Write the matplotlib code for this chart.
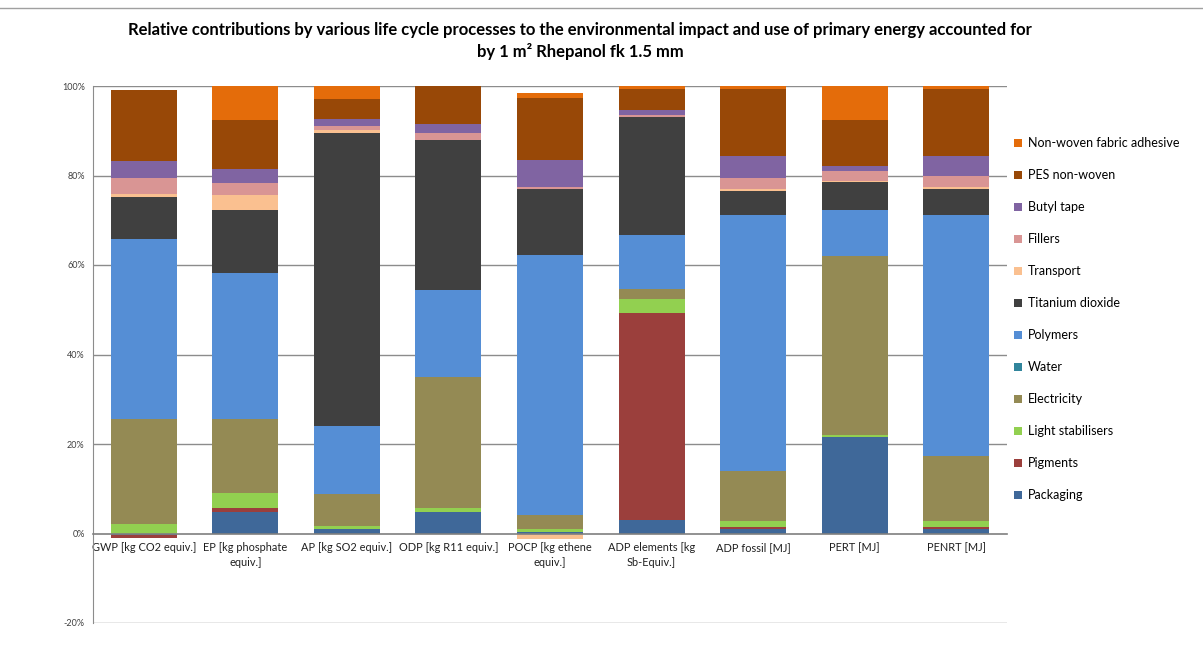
import matplotlib
matplotlib.use("Agg")
import matplotlib.pyplot as plt
import numpy as np
from matplotlib.lines import Line2D
from matplotlib.patches import Patch

categories = ["GWP [kg CO2 equiv.]", "EP [kg phosphate\nequiv.]", "AP [kg SO2 equiv.]",
              "ODP [kg R11 equiv.]", "POCP [kg ethene\nequiv.]", "ADP elements [kg\nSb-Equiv.]",
              "ADP fossil [MJ]", "PERT [MJ]", "PENRT [MJ]"]

packaging      = [-0.4, 4.8, 1.0, 4.7, 0.3, 3.0, 0.9, 21.5, 1.0]
pigments       = [-0.5, 0.9, 0.0, 0.0, 0.0, 46.3, 0.6, 0.0, 0.5]
light_stab     = [2.2, 3.4, 0.6, 0.9, 0.6, 3.2, 1.3, 0.4, 1.4]
electricity    = [23.4, 16.5, 7.2, 29.3, 3.3, 2.1, 11.2, 40.2, 14.5]
water          = [0.0, 0.0, 0.0, 0.0, 0.0, 0.0, 0.0, 0.0, 0.0]
polymers       = [40.1, 32.7, 15.2, 19.6, 58.1, 12.0, 57.2, 10.3, 53.8]
titanium       = [9.5, 14.1, 65.6, 33.4, 14.7, 26.5, 5.4, 6.1, 5.8]
transport      = [0.7, 3.2, 0.6, 0.0, -1.2, 0.0, 0.4, 0.3, 0.5]
fillers        = [3.5, 2.7, 0.9, 1.7, 0.5, 0.5, 2.4, 2.3, 2.4]
butyl          = [3.8, 3.1, 1.5, 2.0, 5.9, 1.0, 5.0, 1.0, 4.5]
pes            = [15.9, 10.9, 4.5, 8.4, 14.0, 4.8, 15.0, 10.4, 15.0]
adhesive       = [0.0, 7.7, 2.9, 0.0, 1.1, 0.6, 0.6, 7.5, 0.6]

series_names = ["Packaging", "Pigments", "Light stabilisers", "Electricity", "Water", "Polymers",
                "Titanium dioxide", "Transport", "Fillers", "Butyl tape", "PES non-woven",
                "Non-woven fabric adhesive"]
series_vals = [packaging, pigments, light_stab, electricity, water, polymers, titanium,
               transport, fillers, butyl, pes, adhesive]
colors = ["#3F6899", "#9B3F3C", "#92D050", "#948A54", "#31859C", "#558ED5",
          "#404040", "#FAC090", "#D99594", "#8064A2", "#984807", "#E46C0A"]

yticks = [-20, 0, 20, 40, 60, 80, 100]
ytick_labels = ["-20%", "0%", "20%", "40%", "60%", "80%", "100%"]

plt.rcParams['font.family'] = ['Lato', 'DejaVu Sans']

fig = plt.figure(figsize=(12.03, 6.67), dpi=100)
ax = fig.add_axes([93/1203, 44/667, 914/1203, 537/667])

x = np.arange(len(categories))
pos_base = np.zeros(len(categories))
neg_base = np.zeros(len(categories))
for name, vals, c in zip(series_names, series_vals, colors):
    v = np.array(vals, dtype=float)
    pos = np.where(v > 0, v, 0)
    neg = np.where(v < 0, v, 0)
    ax.bar(x, pos, bottom=pos_base, width=0.65, color=c, zorder=3, linewidth=0)
    ax.bar(x, neg, bottom=neg_base, width=0.65, color=c, zorder=3, linewidth=0)
    pos_base += pos
    neg_base += neg

ax.spines["bottom"].set_position(("data", 0))
ax.spines["bottom"].set_color("#7F7F7F")
ax.spines["bottom"].set_linewidth(1.2)
ax.spines["bottom"].set_zorder(4)
for s in ["top", "right"]:
    ax.spines[s].set_visible(False)
ax.spines["left"].set_color("#8C8C8C")

ax.set_xlim(-0.5, len(categories) - 0.5)
ax.set_ylim(-20, 100)
ax.set_yticks(yticks)
ax.set_yticklabels(ytick_labels, fontsize=6.5, color="#404040")
ax.set_xticks(x)
ax.set_xticklabels(categories, fontsize=7.9, color="#202020", linespacing=1.45)
ax.tick_params(axis='both', length=0, pad=6)
ax.tick_params(axis='x', pad=6)
for yv in [-20, 20, 40, 60, 80, 100]:
    ax.axhline(yv, color="#8C8C8C", linewidth=1.0, zorder=1)

fig.text(580/1203, 1 - 30/667,
         "Relative contributions by various life cycle processes to the environmental impact and use of primary energy accounted for",
         ha="center", va="center", fontsize=12, fontweight="bold")
fig.text(580/1203, 1 - 51/667, "by 1 m\u00b2 Rhepanol fk 1.5 mm",
         ha="center", va="center", fontsize=12, fontweight="bold")

handles = [Patch(facecolor=c, edgecolor='none') for c in colors]
leg = fig.legend(handles[::-1], series_names[::-1], loc="upper left",
                 bbox_to_anchor=(1003/1203, 1 - 126/667), frameon=False,
                 fontsize=9, handlelength=0.65, handleheight=0.65, handletextpad=0.45,
                 labelspacing=1.6)

fig.add_artist(Line2D([0, 1], [1 - 8/667, 1 - 8/667], color="#A0A0A0", linewidth=1.0,
                      transform=fig.transFigure))

fig.savefig("out.png", dpi=100)
